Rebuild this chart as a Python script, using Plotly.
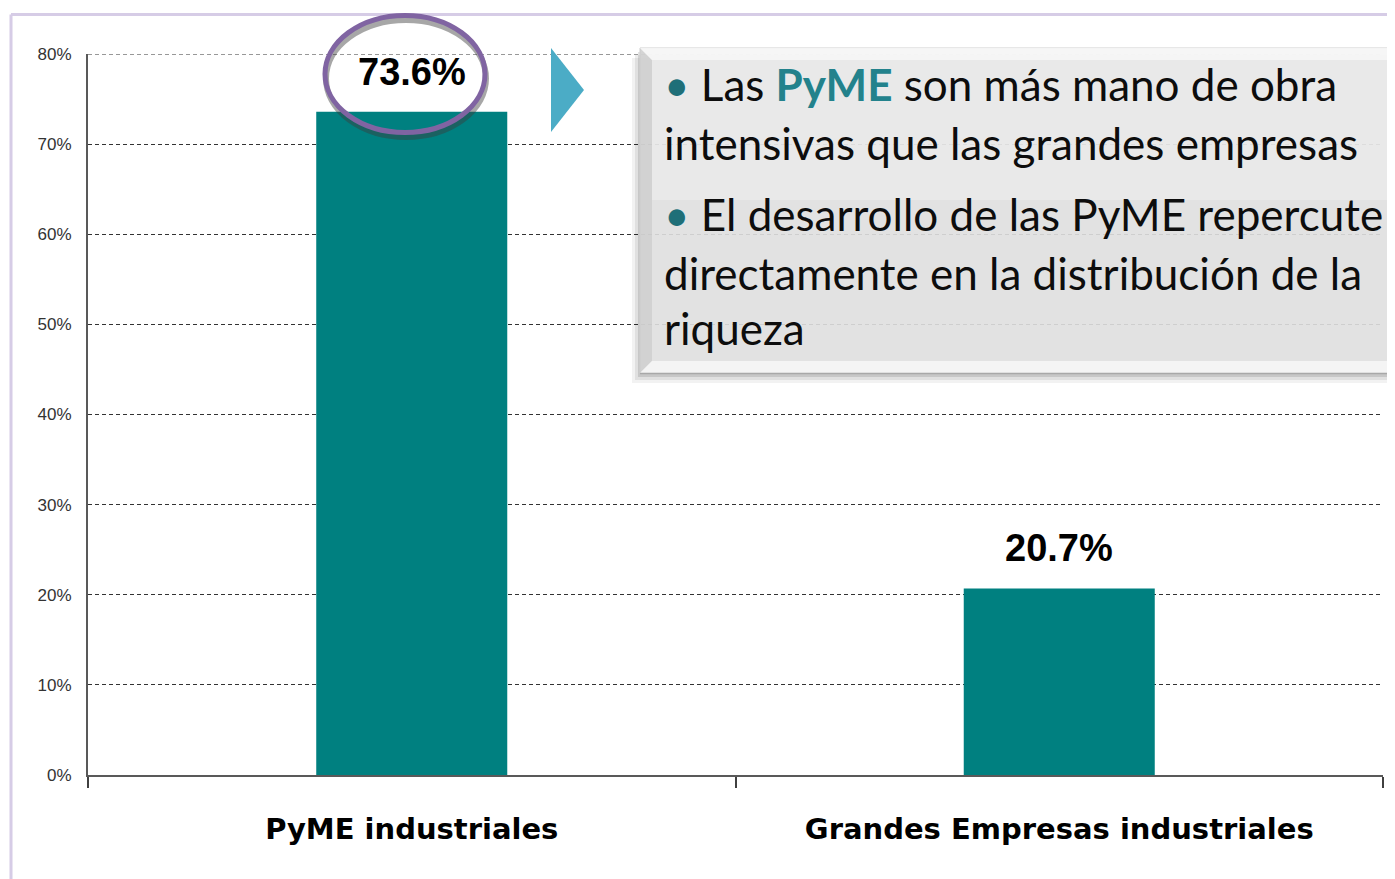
import plotly.graph_objects as go

categories = ["PyME industriales", "Grandes Empresas industriales"]
values = [73.6, 20.7]
value_labels = ["73.6%", "20.7%"]
y_ticks = [0, 10, 20, 30, 40, 50, 60, 70, 80]
y_tick_text = ["0%", "10%", "20%", "30%", "40%", "50%", "60%", "70%", "80%"]

# page body has an 8px margin; work in reference pixel coordinates
OFF = 8
W, H = 1395 - OFF, 879 - OFF
L, R, T, B = 88, 1383, 54, 775


def px(x):
    return (x - L) / (R - L)


def py(y):
    return (B - y) / (B - T)


fig = go.Figure()
fig.add_trace(go.Bar(
    x=categories, y=values, marker=dict(color="#008080", line=dict(width=0)),
    width=0.295, hoverinfo="skip", showlegend=False,
))

shapes = []
# top gridline (at range edge)
shapes.append(dict(type="line", xref="paper", yref="y", x0=0, x1=1, y0=y_ticks[-1], y1=y_ticks[-1],
                   line=dict(color="#333333", width=1, dash="4px,3px"), layer="below"))
# outer frame
shapes.append(dict(type="line", xref="paper", yref="paper", x0=px(11), x1=px(1400), y0=py(14.5), y1=py(14.5),
                   line=dict(color="#D6CCE6", width=3), layer="above"))
shapes.append(dict(type="line", xref="paper", yref="paper", x0=px(11), x1=px(11), y0=py(14.5), y1=py(890),
                   line=dict(color="#D6CCE6", width=3), layer="above"))

# text box shadow
for dx, alpha in [(10, 0.05), (7, 0.07), (4, 0.11)]:
    shapes.append(dict(type="rect", xref="paper", yref="paper", x0=px(640 - dx + 2), x1=px(1400),
                       y0=py(373 + dx), y1=py(48 + dx),
                       fillcolor=f"rgba(0,0,0,{alpha})", line=dict(width=0), layer="above"))
shapes.append(dict(type="rect", xref="paper", yref="paper", x0=px(640), x1=px(1400), y0=py(373), y1=py(48),
                   fillcolor="rgba(230,230,230,0.88)", line=dict(color="#cfcfcf", width=1), layer="above"))
shapes.append(dict(type="rect", xref="paper", yref="paper", x0=px(652), x1=px(1400), y0=py(200), y1=py(60),
                   fillcolor="rgba(245,245,245,0.35)", line=dict(width=0), layer="above"))
# bevels
shapes.append(dict(type="path", xref="paper", yref="paper",
                   path=f"M {px(640)},{py(48)} L {px(652)},{py(60)} L {px(652)},{py(361)} L {px(640)},{py(373)} Z",
                   fillcolor="rgba(200,200,200,0.6)", line=dict(width=0), layer="above"))
shapes.append(dict(type="path", xref="paper", yref="paper",
                   path=f"M {px(640)},{py(373)} L {px(652)},{py(361)} L {px(1400)},{py(361)} L {px(1400)},{py(373)} Z",
                   fillcolor="rgba(246,246,246,0.9)", line=dict(width=0), layer="above"))
shapes.append(dict(type="path", xref="paper", yref="paper",
                   path=f"M {px(640)},{py(48)} L {px(652)},{py(60)} L {px(1400)},{py(60)} L {px(1400)},{py(48)} Z",
                   fillcolor="rgba(248,248,248,0.85)", line=dict(width=0), layer="above"))
shapes.append(dict(type="line", xref="paper", yref="paper", x0=px(640), x1=px(1400), y0=py(373.5), y1=py(373.5),
                   line=dict(color="#a8a8a8", width=1.5), layer="above"))

# triangle arrow
shapes.append(dict(type="path", xref="paper", yref="paper",
                   path=f"M {px(551)},{py(48)} L {px(584)},{py(90)} L {px(551)},{py(132)} Z",
                   fillcolor="#4BACC6", line=dict(width=0), layer="above"))

# ellipse highlight with shadow
shapes.append(dict(type="circle", xref="paper", yref="paper", x0=px(326), x1=px(486), y0=py(137), y1=py(20),
                   line=dict(color="rgba(60,60,60,0.45)", width=6), layer="above"))
shapes.append(dict(type="circle", xref="paper", yref="paper", x0=px(325), x1=px(485), y0=py(132.5), y1=py(15.5),
                   line=dict(color="#8064A2", width=5), layer="above"))

annotations = []
# value labels
for c, v, lab in zip(categories, values, value_labels):
    annotations.append(dict(x=c, y=v, xref="x", yref="y", text=lab, showarrow=False,
                            yanchor="bottom", yshift=17,
                            font=dict(family="Liberation Sans, Arial", size=38, color="#000000", weight="bold")))

teal = "#1F6F78"
box_lines = [
    (f"<span style='color:{teal}'>•</span> Las <b><span style='color:#23828C'>PyME</span></b> son más mano de obra", 101.7),
    ("intensivas que las grandes empresas", 160),
    (f"<span style='color:{teal}'>•</span> El desarrollo de las PyME repercute", 231.7),
    ("directamente en la distribución de la", 290),
    ("riqueza", 345),
]
FS = 44
for txt, base in box_lines:
    annotations.append(dict(x=px(662), y=py(base + 0.24 * FS), xref="paper", yref="paper", text=txt,
                            showarrow=False, xanchor="left", yanchor="bottom", align="left",
                            font=dict(family="Lato", size=FS, color="#0d0d0d")))

fig.update_layout(
    width=W, height=H,
    margin=dict(l=L - OFF, r=1395 - R, t=T - OFF, b=879 - B, pad=0),
    paper_bgcolor="white", plot_bgcolor="white",
    bargap=0.7,
    shapes=shapes, annotations=annotations,
    xaxis=dict(
        type="category", showline=True, linecolor="#595959", linewidth=2,
        ticks="outside", tickson="boundaries", ticklen=11, tickwidth=1.5, tickcolor="#404040",
        tickfont=dict(family="DejaVu Sans", size=29, color="#000000", weight="bold"),
        ticklabelstandoff=27, showgrid=False, zeroline=False,
    ),
    yaxis=dict(
        range=[0, 80], tickvals=y_ticks, ticktext=y_tick_text,
        showline=True, linecolor="#595959", linewidth=2, ticks="",
        tickfont=dict(family="Liberation Sans, Arial", size=17, color="#333333"),
        ticklabelstandoff=11,
        showgrid=True, gridcolor="#333333", gridwidth=1, griddash="4px,3px", zeroline=False,
    ),
)

fig.write_html("out.html")
